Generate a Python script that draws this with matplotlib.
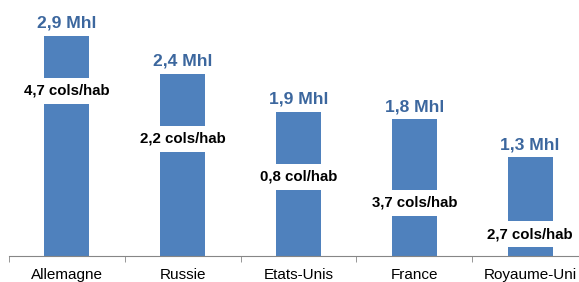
import matplotlib.pyplot as plt

plt.rcParams["font.family"] = ["Liberation Sans", "DejaVu Sans"]

pays = ["Allemagne", "Russie", "Etats-Unis", "France", "Royaume-Uni"]
volumes_mhl = [2.9, 2.4, 1.9, 1.8, 1.3]
cols_hab = ["4,7 cols/hab", "2,2 cols/hab", "0,8 col/hab", "3,7 cols/hab", "2,7 cols/hab"]

# hauteur du cartouche blanc, en fraction de la barre
label_frac = [0.75, 0.645, 0.55, 0.39, 0.22]

BLEU = "#4F81BD"
BLEU_TXT = "#3C679E"

fig = plt.figure(figsize=(5.79, 2.82), dpi=100)
ax = fig.add_axes([9 / 579, 26 / 282, 1.0, 256 / 282])

x = range(len(pays))
bars = ax.bar(x, volumes_mhl, width=0.39, color=BLEU, zorder=2)

for i, b in enumerate(bars):
    h = b.get_height()
    ax.annotate(f"{volumes_mhl[i]:.1f} Mhl".replace(".", ","),
                (b.get_x() + b.get_width() / 2, h),
                xytext=(0, 5.8), textcoords="offset points",
                ha="center", va="baseline", fontsize=12.6,
                fontweight="bold", color=BLEU_TXT)
    ax.text(b.get_x() + b.get_width() / 2, h * label_frac[i], cols_hab[i],
            ha="center", va="center", fontsize=10.8, fontweight="bold",
            color="black", zorder=3,
            bbox=dict(boxstyle="square,pad=0.4", facecolor="white", edgecolor="none"))

ax.set_xlim(-0.5, len(pays) - 0.5)
ax.set_ylim(0, 3.373)
ax.set_xticks(list(x))
ax.set_xticklabels(pays, fontsize=11)
ax.set_xticks([i - 0.5 for i in range(len(pays) + 1)], minor=True)
ax.tick_params(axis="x", which="major", length=0, pad=8.5)
ax.tick_params(axis="x", which="minor", length=4, color="#868686")
ax.set_yticks([])

for s in ["top", "right", "left"]:
    ax.spines[s].set_visible(False)
ax.spines["bottom"].set_color("#868686")

fig.savefig("out.png", dpi=100)
